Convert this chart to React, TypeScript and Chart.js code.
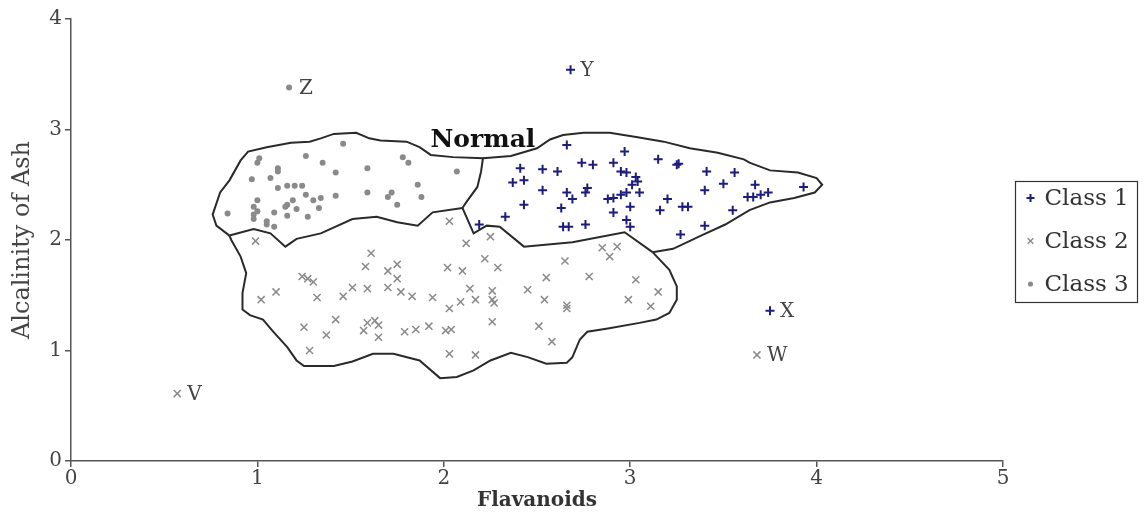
import { useEffect, useRef } from "react";
import { Chart, registerables } from "chart.js";

Chart.register(...registerables);

// ---------- data ----------
const xTicks = [0, 1, 2, 3, 4, 5];
const yTicks = [0, 1, 2, 3, 4];

const class1Points: number[][] = [
  [2.66, 2.86], [2.97, 2.8], [3.15, 2.73], [3.25, 2.68], [3.26, 2.69], [2.41, 2.65], [2.53, 2.64],
  [2.61, 2.62], [2.74, 2.7], [2.8, 2.68], [2.91, 2.7], [2.95, 2.62], [2.98, 2.61], [3.03, 2.57],
  [3.04, 2.53], [3.41, 2.62], [3.56, 2.61], [2.37, 2.52], [2.43, 2.54], [2.53, 2.45], [2.66, 2.43],
  [2.69, 2.37], [2.76, 2.43], [2.77, 2.47], [2.88, 2.37], [2.91, 2.38], [2.95, 2.41], [2.98, 2.43],
  [3.01, 2.5], [3.05, 2.43], [3.4, 2.45], [3.5, 2.51], [3.67, 2.5], [3.63, 2.39], [3.66, 2.39],
  [3.7, 2.41], [3.74, 2.43], [3.93, 2.48], [2.43, 2.32], [2.63, 2.29], [2.91, 2.25], [3.0, 2.3],
  [3.2, 2.37], [3.16, 2.27], [3.28, 2.3], [3.31, 2.3], [3.55, 2.27], [2.19, 2.14], [2.33, 2.21],
  [2.64, 2.12], [2.67, 2.12], [2.76, 2.14], [2.98, 2.18], [3.0, 2.12], [3.27, 2.05], [3.4, 2.13],
  [2.68, 3.54], [3.75, 1.36],
];

const class2Points: number[][] = [
  [2.03, 2.17], [0.99, 1.99], [2.12, 1.97], [2.25, 2.03], [1.61, 1.88], [1.58, 1.76], [1.75, 1.78],
  [1.7, 1.72], [2.02, 1.75], [2.1, 1.72], [1.75, 1.65], [1.24, 1.67], [1.27, 1.65], [1.3, 1.62],
  [1.51, 1.57], [1.59, 1.56], [1.7, 1.57], [1.77, 1.53], [1.46, 1.49], [1.83, 1.49], [1.94, 1.48],
  [1.1, 1.53], [1.02, 1.46], [1.32, 1.48], [2.09, 1.44], [2.03, 1.38], [1.42, 1.28], [1.25, 1.21],
  [1.59, 1.25], [1.63, 1.27], [1.65, 1.23], [1.57, 1.18], [1.65, 1.12], [1.37, 1.14], [1.79, 1.17],
  [1.85, 1.19], [1.92, 1.22], [2.01, 1.18], [2.04, 1.19], [1.28, 1.0], [2.03, 0.97], [2.22, 1.83],
  [2.29, 1.75], [2.65, 1.81], [2.85, 1.93], [2.93, 1.94], [2.89, 1.85], [2.55, 1.66], [2.78, 1.67],
  [3.03, 1.64], [3.15, 1.53], [2.14, 1.56], [2.26, 1.54], [2.45, 1.55], [2.17, 1.46], [2.26, 1.46],
  [2.27, 1.43], [2.54, 1.46], [2.66, 1.41], [2.66, 1.38], [2.99, 1.46], [3.11, 1.4], [2.26, 1.26],
  [2.51, 1.22], [2.58, 1.08], [2.17, 0.96],
  [0.57, 0.61], [3.68, 0.96],
];

const class3Points: number[][] = [
  [1.46, 2.87], [1.01, 2.74], [1.0, 2.7], [1.26, 2.76], [1.35, 2.7], [1.11, 2.65], [1.11, 2.62],
  [0.97, 2.55], [1.07, 2.56], [1.42, 2.61], [1.59, 2.65], [1.78, 2.75], [1.81, 2.7], [2.07, 2.62],
  [1.11, 2.47], [1.16, 2.49], [1.2, 2.49], [1.24, 2.49], [1.86, 2.5], [1.59, 2.43], [1.72, 2.43],
  [1.7, 2.39], [1.75, 2.32], [1.88, 2.39], [1.42, 2.4], [1.26, 2.41], [1.3, 2.36], [1.34, 2.38],
  [1.19, 2.36], [1.16, 2.32], [1.15, 2.3], [1.0, 2.36], [0.98, 2.3], [1.33, 2.29], [0.84, 2.24],
  [1.09, 2.25], [0.98, 2.23], [0.98, 2.19], [1.27, 2.21], [1.16, 2.22], [1.05, 2.17], [1.05, 2.14],
  [1.09, 2.12], [1.0, 2.26], [1.21, 2.28],
  [1.17, 3.38],
];

// region boundaries (data units)
const edgeClass3Class2: number[][] = [
  [0.85, 2.04], [0.98, 2.1], [1.07, 2.06], [1.15, 1.94], [1.21, 2.01], [1.34, 2.06], [1.51, 2.19],
  [1.64, 2.21], [1.75, 2.16], [1.86, 2.13], [1.94, 2.25], [2.1, 2.29],
];
const edgeClass3Outer: number[][] = [
  [0.85, 2.04], [0.78, 2.13], [0.76, 2.23], [0.8, 2.43], [0.85, 2.54], [0.91, 2.72], [0.95, 2.8],
  [1.05, 2.84], [1.18, 2.88], [1.28, 2.89], [1.34, 2.92], [1.41, 2.96], [1.53, 2.97], [1.6, 2.92],
  [1.66, 2.9], [1.8, 2.89], [1.87, 2.84], [1.93, 2.77], [2.05, 2.75], [2.21, 2.74], [2.2, 2.62],
  [2.18, 2.48], [2.12, 2.34], [2.1, 2.29],
];
const edgeClass1Outer: number[][] = [
  [2.21, 2.74], [2.36, 2.76], [2.5, 2.83], [2.57, 2.91], [2.64, 2.95], [2.75, 2.97], [2.89, 2.97],
  [3.04, 2.93], [3.18, 2.89], [3.32, 2.83], [3.47, 2.79], [3.61, 2.73], [3.64, 2.7], [3.75, 2.63],
  [3.9, 2.61], [4.0, 2.56], [4.03, 2.5], [3.99, 2.43], [3.88, 2.38], [3.75, 2.34], [3.64, 2.27],
  [3.51, 2.14], [3.38, 2.04], [3.23, 1.92], [3.12, 1.89],
];
const edgeClass1Class2: number[][] = [
  [2.1, 2.29], [2.16, 2.06], [2.23, 2.13], [2.3, 2.12], [2.43, 1.94], [2.69, 1.98], [2.97, 2.07],
  [3.12, 1.89],
];
const edgeClass2Outer: number[][] = [
  [3.12, 1.89], [3.21, 1.73], [3.25, 1.58], [3.25, 1.46], [3.21, 1.34], [3.14, 1.28], [3.05, 1.25],
  [2.88, 1.2], [2.77, 1.17], [2.73, 1.1], [2.69, 0.94], [2.66, 0.89], [2.55, 0.88], [2.45, 0.94],
  [2.36, 0.98], [2.25, 0.91], [2.16, 0.82], [2.07, 0.76], [1.98, 0.75], [1.87, 0.91], [1.73, 0.97],
  [1.62, 0.97], [1.51, 0.9], [1.41, 0.86], [1.25, 0.86], [1.21, 0.91], [1.16, 1.03], [1.08, 1.18],
  [1.03, 1.28], [0.96, 1.32], [0.92, 1.37], [0.92, 1.52], [0.94, 1.7], [0.91, 1.85], [0.86, 2.0],
  [0.85, 2.04],
];

const outlierNames = ["V", "W", "X", "Y", "Z"];
const outlierX = [0.57, 3.68, 3.75, 2.68, 1.17];
const outlierY = [0.61, 0.96, 1.36, 3.54, 3.38];

const regionLabel = "Normal";
const regionLabelPos = [2.21, 2.9];

const seriesNames = ["Class 1", "Class 2", "Class 3"];
const xTitle = "Flavanoids";
const yTitle = "Alcalinity of Ash";

// ---------- styles ----------
const SERIF = '"DejaVu Serif", "Liberation Serif", serif';
const AXIS = "#555555";
const TEXT = "#444444";
const C1 = "#1d1d7c";
const GREY = "#8a8a8a";

const toPts = (arr: number[][]) => arr.map(([x, y]) => ({ x, y }));

function drawMarker(ctx: CanvasRenderingContext2D, style: string, x: number, y: number, r: number, color: string, lw: number) {
  ctx.save();
  ctx.strokeStyle = color;
  ctx.fillStyle = color;
  ctx.lineWidth = lw;
  ctx.beginPath();
  if (style === "cross") {
    ctx.moveTo(x - r, y); ctx.lineTo(x + r, y);
    ctx.moveTo(x, y - r); ctx.lineTo(x, y + r);
    ctx.stroke();
  } else if (style === "crossRot") {
    const d = r * 0.7071;
    ctx.moveTo(x - d, y - d); ctx.lineTo(x + d, y + d);
    ctx.moveTo(x - d, y + d); ctx.lineTo(x + d, y - d);
    ctx.stroke();
  } else {
    ctx.arc(x, y, r, 0, Math.PI * 2);
    ctx.fill();
  }
  ctx.restore();
}

const overlayPlugin = {
  id: "overlay",
  afterDatasetsDraw(chart: any) {
    const { ctx, scales } = chart;
    const xs = scales.x;
    const ys = scales.y;
    ctx.save();
    // outlier labels
    ctx.font = `20px ${SERIF}`;
    ctx.fillStyle = TEXT;
    ctx.textBaseline = "middle";
    ctx.textAlign = "left";
    outlierNames.forEach((n, i) => {
      ctx.fillText(n, xs.getPixelForValue(outlierX[i]) + 10, ys.getPixelForValue(outlierY[i]) + 1);
    });
    // region label
    ctx.font = `bold 25px ${SERIF}`;
    ctx.fillStyle = "#111";
    ctx.textAlign = "center";
    ctx.fillText(regionLabel, xs.getPixelForValue(regionLabelPos[0]), ys.getPixelForValue(regionLabelPos[1]));

    // legend
    const lx = 1015.5, ly = 181.5, lw = 122, lh = 121;
    ctx.strokeStyle = "#333";
    ctx.lineWidth = 1.2;
    ctx.strokeRect(lx, ly, lw, lh);
    const rowY = [198, 241, 284];
    ctx.font = `23px ${SERIF}`;
    ctx.fillStyle = "#333";
    ctx.textAlign = "left";
    chart.data.datasets.slice(0, 3).forEach((ds: any, i: number) => {
      const color = ds.pointStyle === "circle" ? ds.backgroundColor : ds.borderColor;
      const r = ds.pointStyle === "circle" ? 2.6 : 4;
      drawMarker(ctx, ds.pointStyle, lx + 15, rowY[i], r, color, ds.pointStyle === "cross" ? 2 : 1.4);
      ctx.fillText(ds.label, lx + 29, rowY[i] + 1);
    });
    ctx.restore();
  },
};

export default function App() {
  const ref = useRef<HTMLCanvasElement | null>(null);

  useEffect(() => {
    if (!ref.current) return;
    const edges = [edgeClass3Class2, edgeClass3Outer, edgeClass1Outer, edgeClass1Class2, edgeClass2Outer];
    const edgeSets = edges.map((e) => ({
      label: "",
      data: toPts(e),
      showLine: true,
      pointRadius: 0,
      borderColor: "#2a2a2a",
      borderWidth: 2,
      fill: false,
      tension: 0,
    }));
    const tickFont = { family: SERIF, size: 20 };
    const chart = new Chart(ref.current, {
      type: "scatter",
      data: {
        datasets: [
          {
            label: seriesNames[0],
            data: toPts(class1Points),
            pointStyle: "cross",
            pointRadius: 4.5,
            borderColor: C1,
            backgroundColor: C1,
            borderWidth: 2,
          },
          {
            label: seriesNames[1],
            data: toPts(class2Points),
            pointStyle: "crossRot",
            pointRadius: 5,
            borderColor: GREY,
            backgroundColor: GREY,
            borderWidth: 1.5,
          },
          {
            label: seriesNames[2],
            data: toPts(class3Points),
            pointStyle: "circle",
            pointRadius: 3,
            borderColor: GREY,
            backgroundColor: GREY,
            borderWidth: 0,
          },
          ...edgeSets,
        ] as any,
      },
      options: {
        animation: false,
        responsive: true,
        maintainAspectRatio: false,
        layout: { padding: { left: 0, top: 19, right: 145, bottom: 0 } },
        plugins: { legend: { display: false }, tooltip: { enabled: false } },
        scales: {
          x: {
            type: "linear",
            min: xTicks[0],
            max: xTicks[xTicks.length - 1],
            afterBuildTicks: (s: any) => { s.ticks = xTicks.map((v) => ({ value: v })); },
            ticks: { font: tickFont, color: TEXT, padding: 0 },
            grid: { display: true, drawOnChartArea: false, drawTicks: true, tickLength: 6, color: AXIS, lineWidth: 1.5 },
            border: { display: true, color: AXIS, width: 1.5 },
            title: { display: true, text: xTitle, font: { family: SERIF, size: 20, weight: "bold" }, color: "#333", padding: { top: 0, bottom: 10 } },
            afterFit: (s: any) => { s.height = 62; },
          },
          y: {
            type: "linear",
            min: yTicks[0],
            max: yTicks[yTicks.length - 1],
            afterBuildTicks: (s: any) => { s.ticks = yTicks.map((v) => ({ value: v })); },
            ticks: { font: tickFont, color: TEXT, padding: 3 },
            grid: { display: true, drawOnChartArea: false, drawTicks: true, tickLength: 6, color: AXIS, lineWidth: 1.5 },
            border: { display: true, color: AXIS, width: 1.5 },
            title: { display: true, text: yTitle, font: { family: SERIF, size: 24 }, color: TEXT, padding: { top: 8, bottom: 0 } },
            afterFit: (s: any) => { s.width = 71; },
          },
        },
      },
      plugins: [overlayPlugin],
    });
    return () => chart.destroy();
  }, []);

  return (
    <div style={{ position: "fixed", left: 0, top: 0, width: 1148, height: 523, background: "#fff" }}>
      <canvas ref={ref} />
    </div>
  );
}
